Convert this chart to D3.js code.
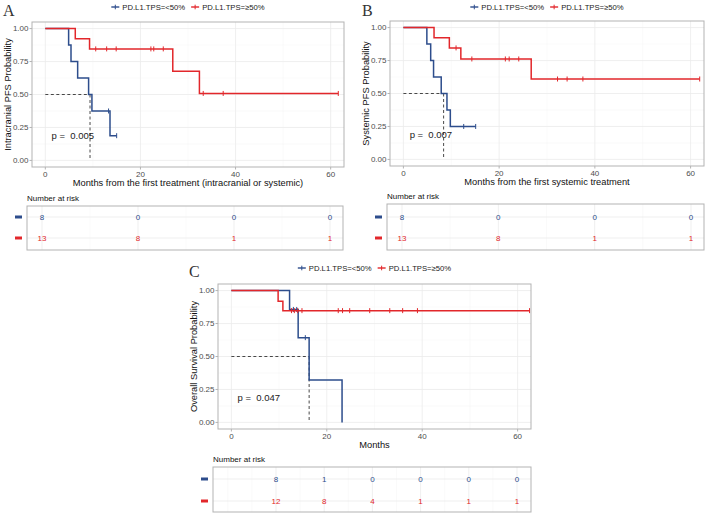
<!DOCTYPE html>
<html lang="en">
  <head>
    <meta charset="UTF-8">
    <title>PFS / OS by PD-L1 TPS</title>
    <style>
    * {
      box-sizing: border-box;
      margin: 0;
      padding: 0;
    }

    body {
      background: #fff;
    }

    svg {
      display: block;
      font-family: "Liberation Sans", Arial, sans-serif;
    }

    .grid-major {
      stroke: #ebebeb;
      stroke-width: 0.8px;
    }

    .grid-minor {
      stroke: #f4f4f4;
      stroke-width: 0.5px;
    }

    .frame {
      fill: none;
      stroke: #b3b3b3;
      stroke-width: 1px;
    }

    .tick-label {
      fill: #4d4d4d;
      font-size: 8px;
    }

    .tick-mark {
      stroke: #b3b3b3;
    }

    .axis-title {
      fill: #111;
      font-size: 9.3px;
    }

    .median {
      fill: none;
      stroke: #333;
      stroke-width: 0.9px;
      stroke-dasharray: 3, 2.5;
    }

    .curve {
      fill: none;
      stroke-width: 1.5px;
    }

    .pval {
      font-size: 9.5px;
      fill: #222;
      white-space: pre;
    }

    .panel-label {
      font-family: "Liberation Serif", "Times New Roman", serif;
      font-size: 16px;
      fill: #333;
    }

    .legend text {
      font-size: 7.7px;
      fill: #222;
    }
    </style>
  </head>
  <body>
    <svg width="709" height="518"></svg>
    <script src="https://d3js.org/d3.v7.min.js"></script>
    <script>
      const groupNames = ["PD.L1.TPS=<50%", "PD.L1.TPS=\u226550%"];
      const groupColors = ["#2d4d8c", "#e2272b"];
      const xTicks = [0, 20, 40, 60];
      const yTicks = [0, 0.25, 0.5, 0.75, 1];

      // A: intracranial PFS
      const aLowTime = [0, 4.9, 5.4, 6.8, 9.1, 9.8, 13.6, 15.0];
      const aLowSurv = [1, 0.875, 0.75, 0.625, 0.5, 0.375, 0.1875, 0.1875];
      const aLowCens = [13.3, 15.0];
      const aHighTime = [0, 6.3, 9.3, 26.8, 32.4, 61.6];
      const aHighSurv = [1, 0.923, 0.846, 0.677, 0.508, 0.508];
      const aHighCens = [10.6, 12.9, 14.9, 22.2, 22.8, 24.8, 33.2, 37.4, 61.6];
      const aMedian = 9.4;
      const aPval = "p =  0.005";
      const aRiskTimes = [0, 20, 40, 60];
      const aRiskLow = [8, 0, 0, 0];
      const aRiskHigh = [13, 8, 1, 1];

      // B: systemic PFS
      const bLowTime = [0, 4.9, 5.7, 6.3, 7.9, 9.1, 9.8, 15.1];
      const bLowSurv = [1, 0.875, 0.75, 0.625, 0.5, 0.375, 0.25, 0.25];
      const bLowCens = [12.6, 15.1];
      const bHighTime = [0, 6.4, 9.6, 12.0, 26.7, 61.9];
      const bHighSurv = [1, 0.923, 0.846, 0.762, 0.61, 0.61];
      const bHighCens = [11.0, 14.3, 21.3, 22.1, 24.1, 32.2, 34.2, 37.5, 61.9];
      const bMedian = 8.4;
      const bPval = "p =  0.007";
      const bRiskTimes = [0, 20, 40, 60];
      const bRiskLow = [8, 0, 0, 0];
      const bRiskHigh = [13, 8, 1, 1];

      // C: overall survival
      const cLowTime = [0, 12.2, 14.0, 16.3, 23.2];
      const cLowSurv = [1, 0.857, 0.643, 0.321, 0];
      const cLowCens = [13.0, 13.7, 15.5];
      const cHighTime = [0, 9.8, 10.8, 62.5];
      const cHighSurv = [1, 0.92, 0.848, 0.848];
      const cHighCens = [12.6, 13.2, 13.9, 14.8, 22.4, 23.3, 24.8, 29.0, 33.2, 35.9, 39.0, 62.5];
      const cMedian = 16.3;
      const cPval = "p =  0.047";
      const cRiskTimes = [0, 10, 20, 30, 40, 50];
      const cRiskLow = [8, 1, 0, 0, 0, 0];
      const cRiskHigh = [12, 8, 4, 1, 1, 1];

      const svg = d3.select("svg");

      function stepValue(times, surv, t) {
        let v = surv[0];
        times.forEach((tt, i) => { if (tt <= t) v = surv[i]; });
        return v;
      }

      function drawLegend(cx, cy) {
        const g = svg.append("g").attr("class", "legend");
        let x = 0;
        groupNames.forEach((name, i) => {
          const item = g.append("g").attr("transform", `translate(${x},0)`);
          item.append("line").attr("x1", 0).attr("x2", 8).attr("y1", 0).attr("y2", 0)
            .attr("stroke", groupColors[i]).attr("stroke-width", 1.4);
          item.append("line").attr("x1", 4).attr("x2", 4).attr("y1", -2.3).attr("y2", 2.3)
            .attr("stroke", groupColors[i]).attr("stroke-width", 1);
          const t = item.append("text").attr("x", 11).attr("dy", "0.35em").text(name);
          x += 11 + t.node().getComputedTextLength() + 6;
        });
        const w = x - 6;
        g.attr("transform", `translate(${cx - w / 2},${cy})`);
      }

      function drawPanel(p) {
        const x = d3.scaleLinear().domain([-2.8, 62.8]).range([p.plot.left, p.plot.right]);
        const y = d3.scaleLinear().domain([-0.05, 1.05]).range([p.plot.bottom, p.plot.top]);
        const g = svg.append("g");

        svg.append("text").attr("class", "panel-label")
          .attr("x", p.labelPos[0]).attr("y", p.labelPos[1]).text(p.label);

        drawLegend((p.plot.left + p.plot.right) / 2, p.legendY);

        // grid
        const minorX = d3.range(-10, 70, 10).filter(v => !xTicks.includes(v) && x(v) > p.plot.left && x(v) < p.plot.right);
        const minorY = [0.125, 0.375, 0.625, 0.875];
        g.selectAll(".mx").data(minorX).enter().append("line").attr("class", "grid-minor")
          .attr("x1", d => x(d)).attr("x2", d => x(d)).attr("y1", p.plot.top).attr("y2", p.plot.bottom);
        g.selectAll(".my").data(minorY).enter().append("line").attr("class", "grid-minor")
          .attr("x1", p.plot.left).attr("x2", p.plot.right).attr("y1", d => y(d)).attr("y2", d => y(d));
        g.selectAll(".gx").data(xTicks).enter().append("line").attr("class", "grid-major")
          .attr("x1", d => x(d)).attr("x2", d => x(d)).attr("y1", p.plot.top).attr("y2", p.plot.bottom);
        g.selectAll(".gy").data(yTicks).enter().append("line").attr("class", "grid-major")
          .attr("x1", p.plot.left).attr("x2", p.plot.right).attr("y1", d => y(d)).attr("y2", d => y(d));

        // ticks
        g.selectAll(".tx").data(xTicks).enter().append("line").attr("class", "tick-mark")
          .attr("x1", d => x(d)).attr("x2", d => x(d)).attr("y1", p.plot.bottom).attr("y2", p.plot.bottom + 2.5);
        g.selectAll(".lx").data(xTicks).enter().append("text").attr("class", "tick-label")
          .attr("x", d => x(d)).attr("y", p.plot.bottom + 9.5).attr("text-anchor", "middle").text(d => d);
        g.selectAll(".ty").data(yTicks).enter().append("line").attr("class", "tick-mark")
          .attr("x1", p.plot.left - 2.5).attr("x2", p.plot.left).attr("y1", d => y(d)).attr("y2", d => y(d));
        g.selectAll(".ly").data(yTicks).enter().append("text").attr("class", "tick-label")
          .attr("x", p.plot.left - 3.5).attr("y", d => y(d)).attr("dy", "0.35em")
          .attr("text-anchor", "end").text(d => d3.format(".2f")(d));

        // median lines
        g.append("path").attr("class", "median")
          .attr("d", `M${x(0)},${y(0.5)}H${x(p.median)}M${x(p.median)},${y(0.5)}V${y(0)}`);

        // curves
        const line = d3.line().x(d => x(d[0])).y(d => y(d[1])).curve(d3.curveStepAfter);
        p.curves.forEach((c, i) => {
          g.append("path").attr("class", "curve").attr("stroke", groupColors[i])
            .attr("d", line(c.time.map((t, k) => [t, c.surv[k]])));
          g.selectAll(null).data(c.cens).enter().append("line")
            .attr("stroke", groupColors[i]).attr("stroke-width", 1)
            .attr("x1", d => x(d)).attr("x2", d => x(d))
            .attr("y1", d => y(stepValue(c.time, c.surv, d)) - 2.5)
            .attr("y2", d => y(stepValue(c.time, c.surv, d)) + 2.5);
        });

        g.append("rect").attr("class", "frame")
          .attr("x", p.plot.left).attr("y", p.plot.top)
          .attr("width", p.plot.right - p.plot.left).attr("height", p.plot.bottom - p.plot.top);

        g.append("text").attr("class", "pval")
          .attr("x", x(1.3)).attr("y", y(0.19)).attr("dy", "0.35em").text(p.pval);

        // axis titles
        g.append("text").attr("class", "axis-title").attr("text-anchor", "middle")
          .attr("x", (p.plot.left + p.plot.right) / 2).attr("y", p.plot.bottom + 19).text(p.xTitle);
        g.append("text").attr("class", "axis-title").attr("text-anchor", "middle")
          .attr("transform", `translate(${p.plot.left - 21},${(p.plot.top + p.plot.bottom) / 2}) rotate(-90)`)
          .text(p.yTitle);

        // risk table
        const t = p.table;
        const tx = d3.scaleLinear().domain([p.riskTimes[0], p.riskTimes[p.riskTimes.length - 1]]).range([t.first, t.last]);
        const step = p.riskTimes[1] - p.riskTimes[0];
        const tg = svg.append("g");
        tg.append("text").attr("font-size", 8).attr("fill", "#111")
          .attr("x", t.left).attr("y", t.top - 5).text("Number at risk");
        const vLines = d3.range(p.riskTimes[0] - 2 * step, p.riskTimes[p.riskTimes.length - 1] + 2 * step, step / 2)
          .filter(v => tx(v) > t.left + 1 && tx(v) < t.right - 1);
        tg.selectAll(null).data(vLines).enter().append("line")
          .attr("class", d => p.riskTimes.includes(d) ? "grid-major" : "grid-minor")
          .attr("x1", d => tx(d)).attr("x2", d => tx(d)).attr("y1", t.top).attr("y2", t.bottom);
        const rows = [p.riskLow, p.riskHigh];
        rows.forEach((vals, i) => {
          const ry = t.rows[i];
          tg.append("line").attr("class", "grid-major")
            .attr("x1", t.left).attr("x2", t.right).attr("y1", ry).attr("y2", ry);
          tg.selectAll(null).data(vals).enter().append("text")
            .attr("font-size", 8).attr("fill", groupColors[i]).attr("text-anchor", "middle")
            .attr("x", (d, k) => tx(p.riskTimes[k])).attr("y", ry).attr("dy", "0.35em").text(d => d);
          tg.append("line").attr("stroke", groupColors[i]).attr("stroke-width", 3)
            .attr("x1", t.left - 12).attr("x2", t.left - 5).attr("y1", ry).attr("y2", ry);
        });
        tg.append("rect").attr("class", "frame")
          .attr("x", t.left).attr("y", t.top).attr("width", t.right - t.left).attr("height", t.bottom - t.top);
      }

      const panels = [
        {
          label: "A", labelPos: [3, 16], legendY: 7,
          plot: { left: 32, right: 344, top: 22, bottom: 167 },
          table: { left: 27, right: 343, top: 206, bottom: 250, rows: [217, 238], first: 42, last: 330 },
          curves: [
            { time: aLowTime, surv: aLowSurv, cens: aLowCens },
            { time: aHighTime, surv: aHighSurv, cens: aHighCens }
          ],
          median: aMedian, pval: aPval,
          riskTimes: aRiskTimes, riskLow: aRiskLow, riskHigh: aRiskHigh,
          xTitle: "Months from the first treatment (intracranial or systemic)",
          yTitle: "Intracranial PFS Probability"
        },
        {
          label: "B", labelPos: [362, 16], legendY: 7,
          plot: { left: 390, right: 704, top: 21, bottom: 166 },
          table: { left: 387, right: 704, top: 204, bottom: 250, rows: [217, 238], first: 402, last: 691 },
          curves: [
            { time: bLowTime, surv: bLowSurv, cens: bLowCens },
            { time: bHighTime, surv: bHighSurv, cens: bHighCens }
          ],
          median: bMedian, pval: bPval,
          riskTimes: bRiskTimes, riskLow: bRiskLow, riskHigh: bRiskHigh,
          xTitle: "Months from the first systemic treatment",
          yTitle: "Systemic PFS Probability"
        },
        {
          label: "C", labelPos: [189, 277], legendY: 268,
          plot: { left: 218, right: 531, top: 284, bottom: 429 },
          table: { left: 213, right: 531, top: 467, bottom: 512, rows: [479, 501], first: 276, last: 517 },
          curves: [
            { time: cLowTime, surv: cLowSurv, cens: cLowCens },
            { time: cHighTime, surv: cHighSurv, cens: cHighCens }
          ],
          median: cMedian, pval: cPval,
          riskTimes: cRiskTimes, riskLow: cRiskLow, riskHigh: cRiskHigh,
          xTitle: "Months",
          yTitle: "Overall Survival Probability"
        }
      ];

      panels.forEach(drawPanel);
    </script>
  </body>
</html>
